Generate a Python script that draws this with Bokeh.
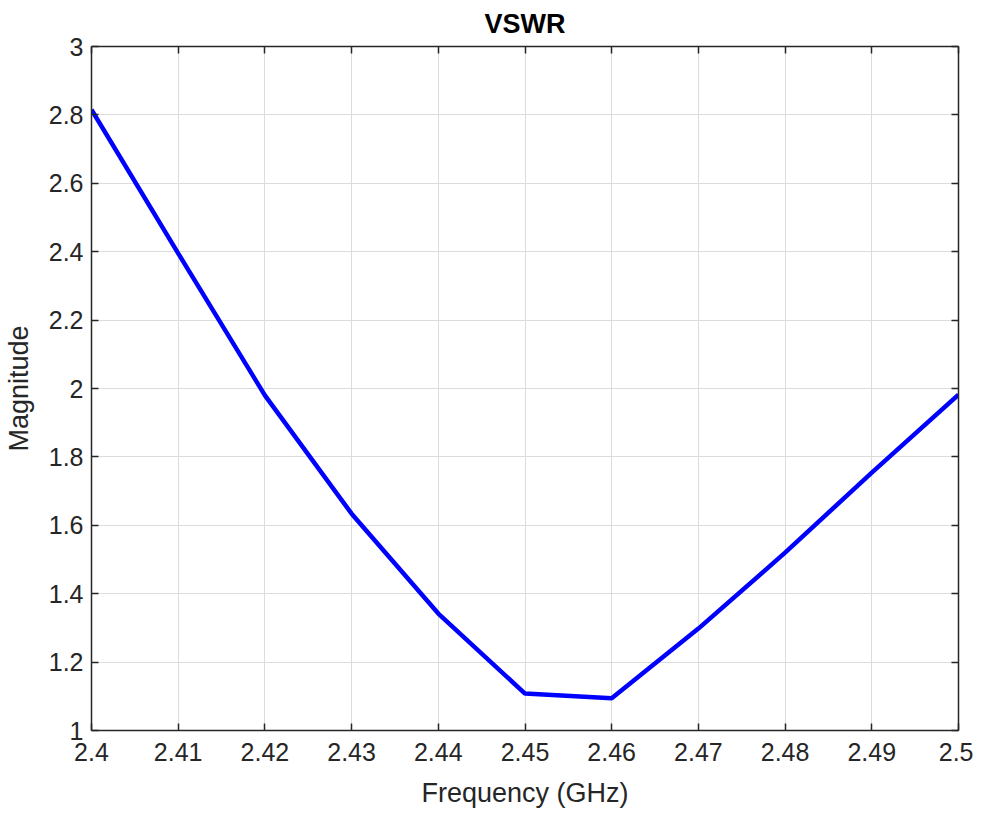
from bokeh.plotting import figure
from bokeh.models import LinearAxis, FixedTicker, Range1d, Grid, CustomLabelingPolicy
from bokeh.embed import file_html
from bokeh.resources import INLINE

freq = [2.40, 2.41, 2.42, 2.43, 2.44, 2.45, 2.46, 2.47, 2.48, 2.49, 2.50]
vswr = [2.815, 2.395, 1.980, 1.634, 1.342, 1.108, 1.094, 1.298, 1.520, 1.754, 1.982]

x_ticks = [2.40, 2.41, 2.42, 2.43, 2.44, 2.45, 2.46, 2.47, 2.48, 2.49, 2.50]
x_tick_labels = ["2.4", "2.41", "2.42", "2.43", "2.44", "2.45", "2.46", "2.47", "2.48", "2.49", "2.5"]
y_ticks = [1.0, 1.2, 1.4, 1.6, 1.8, 2.0, 2.2, 2.4, 2.6, 2.8, 3.0]
y_tick_labels = ["1", "1.2", "1.4", "1.6", "1.8", "2", "2.2", "2.4", "2.6", "2.8", "3"]

FONT = "Liberation Sans"
AX = "#262626"

p = figure(output_backend="svg", toolbar_location=None,
           frame_width=867, frame_height=684,
           x_range=Range1d(2.4, 2.5), y_range=Range1d(1, 3),
           min_border_left=87, min_border_right=15, min_border_top=46, min_border_bottom=67,
           x_axis_type=None, y_axis_type=None)

p.title.text = "VSWR"
p.title.align = "center"
p.title.text_font = FONT
p.title.text_font_size = "27px"
p.title.text_font_style = "bold"
p.title.text_color = "#000000"
p.title.standoff = 8
p.title.offset = 0

hide_all = CustomLabelingPolicy(code="""
const a = [...indices]
for (const i of a) indices.unset(i)
return indices
""")

def style_axis(ax, labels, show_labels=True):
    ax.ticker = FixedTicker(ticks=labels[0])
    ax.major_label_overrides = {t: l for t, l in zip(labels[0], labels[1])}
    ax.axis_line_color = AX
    ax.axis_line_width = 1.5
    ax.major_tick_line_color = AX
    ax.major_tick_line_width = 1.5
    ax.major_tick_in = 7
    ax.major_tick_out = 0
    ax.minor_tick_line_color = None
    ax.major_label_text_font = FONT
    ax.major_label_text_color = AX
    ax.axis_label_text_font = FONT
    ax.axis_label_text_color = AX
    ax.axis_label_text_font_style = "normal"
    ax.axis_label_text_font_size = "27px"
    if show_labels:
        ax.major_label_text_font_size = "25px"
    else:
        ax.major_label_text_font_size = "1px"
        ax.major_label_standoff = 0
        ax.major_label_policy = hide_all

xb = LinearAxis(axis_label="Frequency (GHz)")
style_axis(xb, (x_ticks, x_tick_labels))
xb.major_label_standoff = 12
xb.axis_label_standoff = 14
p.add_layout(xb, "below")

yl = LinearAxis(axis_label="Magnitude")
style_axis(yl, (y_ticks, y_tick_labels))
yl.major_label_standoff = 8
yl.axis_label_standoff = 12
p.add_layout(yl, "left")

xt = LinearAxis()
style_axis(xt, (x_ticks, x_tick_labels), show_labels=False)
p.add_layout(xt, "above")

yr = LinearAxis()
style_axis(yr, (y_ticks, y_tick_labels), show_labels=False)
p.add_layout(yr, "right")

p.add_layout(Grid(dimension=0, ticker=xb.ticker, grid_line_color="#dcdcdc", grid_line_width=1))
p.add_layout(Grid(dimension=1, ticker=yl.ticker, grid_line_color="#dcdcdc", grid_line_width=1))

p.outline_line_color = None
p.line(freq, vswr, line_color="#0000ff", line_width=4.5)

open("out.html", "w").write(file_html(p, INLINE))
